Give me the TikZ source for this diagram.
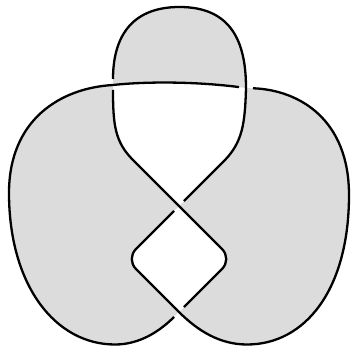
\documentclass[tikz,border=0pt]{standalone}
\definecolor{regiongray}{RGB}{220,220,220}
\tikzset{
  strand/.style={line width=2.3pt, black, line join=round},
  region/.style={fill=regiongray}
}
\begin{document}
\begin{tikzpicture}[x=1pt,y=-1pt]
\useasboundingbox (0,0) rectangle (353,347);
\coordinate (P1) at (113,85);
\coordinate (P2) at (246,88);
\coordinate (M) at (179,206);
\coordinate (B) at (179,312);
% shaded regions
\fill[region] (P1) .. controls (150,81) and (200,82) .. (P2)
  .. controls (246,40) and (230,7) .. (179.5,7)
  .. controls (129,7) and (113,40) .. (P1) -- cycle;
\fill[region] (P1) .. controls (113,125) and (115,142) .. (133,160) -- (M)
  -- (135.9,249.1) .. controls (130.4,254.6) and (130.4,263.4) .. (135.9,268.9) -- (B)
  .. controls (160,331) and (140,344.5) .. (115,344.5)
  .. controls (55,344.5) and (9,285) .. (9,193)
  .. controls (9,120) and (60,88) .. (P1) -- cycle;
\fill[region] (P2) .. controls (300,90) and (349,120) .. (349,195)
  .. controls (349,290) and (305,344.5) .. (247,344.5)
  .. controls (220,344.5) and (198,331) .. (B)
  -- (222.1,268.9) .. controls (227.6,263.4) and (227.6,254.6) .. (222.1,249.1) -- (M)
  -- (225,160) .. controls (242,142) and (245,125) .. (P2) -- cycle;
% knot strands
\draw[strand, shorten <=5pt, shorten >=7pt] (P1) .. controls (113,125) and (115,142) .. (133,160) -- (M)
  -- (222.1,249.1) .. controls (227.6,254.6) and (227.6,263.4) .. (222.1,268.9) -- (B);
\draw[strand, shorten <=7pt, shorten >=7pt] (B) .. controls (160,331) and (140,344.5) .. (115,344.5)
  .. controls (55,344.5) and (9,285) .. (9,193)
  .. controls (9,120) and (60,88) .. (P1)
  .. controls (150,81) and (200,82) .. (P2);
\draw[strand, shorten <=7pt, shorten >=7pt] (P2) .. controls (300,90) and (349,120) .. (349,195)
  .. controls (349,290) and (305,344.5) .. (247,344.5)
  .. controls (220,344.5) and (198,331) .. (B)
  -- (135.9,268.9) .. controls (130.4,263.4) and (130.4,254.6) .. (135.9,249.1) -- (M);
\draw[strand, shorten <=7pt, shorten >=6pt] (M) -- (225,160) .. controls (242,142) and (245,125) .. (P2)
  .. controls (246,40) and (230,7) .. (179.5,7)
  .. controls (129,7) and (113,40) .. (P1);
\end{tikzpicture}
\end{document}
